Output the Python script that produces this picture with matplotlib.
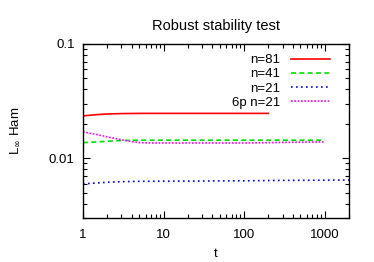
import numpy as np
import matplotlib.pyplot as plt
from matplotlib.ticker import LogLocator, NullFormatter, FixedLocator, FixedFormatter

plt.rcParams['font.family'] = ['Liberation Sans', 'DejaVu Sans']
plt.rcParams['font.size'] = 9.5

# data
t81 = [1, 1.5, 2, 3, 5, 10, 30, 100, 200]
y81 = [0.0235, 0.0241, 0.0244, 0.0246, 0.0247, 0.0247, 0.0247, 0.0247, 0.0247]

t41 = [1, 1.5, 2, 3, 5, 10, 30, 100, 300, 1000]
y41 = [0.0137, 0.0139, 0.0141, 0.0143, 0.0144, 0.0144, 0.0144, 0.0144, 0.0144, 0.0144]

t21 = [1, 1.5, 2, 3, 5, 10, 30, 100, 300, 1000, 2000]
y21 = [0.00597, 0.00608, 0.00616, 0.00624, 0.00628, 0.0063, 0.00632, 0.00635, 0.0064, 0.00643, 0.00645]

t6p = [1, 1.5, 2, 3, 4, 5, 7, 10, 30, 100, 200, 400, 1000]
y6p = [0.0170, 0.0161, 0.0154, 0.0145, 0.0140, 0.0137, 0.0136, 0.0136, 0.0136, 0.0136, 0.0137, 0.0138, 0.0139]

fig = plt.figure(figsize=(3.74, 2.62), dpi=100)
ax = fig.add_axes([83/374, 1 - 218/262, (349-83)/374, (218-44)/262])

ax.plot(t81, y81, color='#ff0000', lw=1.2, ls='-', label='n=81')
ax.plot(t41, y41, color='#00e000', lw=1.2, ls=(0, (3, 2)), label='n=41')
ax.plot(t21, y21, color='#0000ff', lw=1.2, ls=(0, (1, 2)), label='n=21')
ax.plot(t6p, y6p, color='#ff00ff', lw=1.2, ls=(0, (1, 1)), label='6p n=21')

ax.set_xscale('log')
ax.set_yscale('log')
ax.set_xlim(1, 2000)
ax.set_ylim(0.003, 0.1)

ax.xaxis.set_major_locator(FixedLocator([1, 10, 100, 1000]))
ax.xaxis.set_major_formatter(FixedFormatter(['1', '10', '100', '1000']))
ax.xaxis.set_minor_locator(LogLocator(base=10, subs=np.arange(2, 10)))
ax.xaxis.set_minor_formatter(NullFormatter())
ax.yaxis.set_major_locator(FixedLocator([0.01, 0.1]))
ax.yaxis.set_major_formatter(FixedFormatter(['0.01', '0.1']))
ax.yaxis.set_minor_locator(LogLocator(base=10, subs=np.arange(2, 10)))
ax.yaxis.set_minor_formatter(NullFormatter())

ax.tick_params(which='both', direction='in', top=True, right=True, width=0.8)
ax.tick_params(which='major', length=5)
ax.tick_params(axis='x', which='major', pad=8)
ax.tick_params(axis='y', which='major', pad=6)
ax.tick_params(which='minor', length=3)
for s in ax.spines.values():
    s.set_linewidth(1.0)

ax.set_title('Robust stability test', pad=10, fontsize=10.5)
ax.set_xlabel('t', labelpad=5)
ax.set_ylabel(r'L$_\infty$ Ham', labelpad=19)

ax.legend(loc='upper right', bbox_to_anchor=(0.945, 0.965), frameon=False,
          markerfirst=False, handlelength=3.0, labelspacing=0.15,
          borderaxespad=0, borderpad=0.3, handletextpad=0.8)

fig.savefig('out.png', dpi=100)
